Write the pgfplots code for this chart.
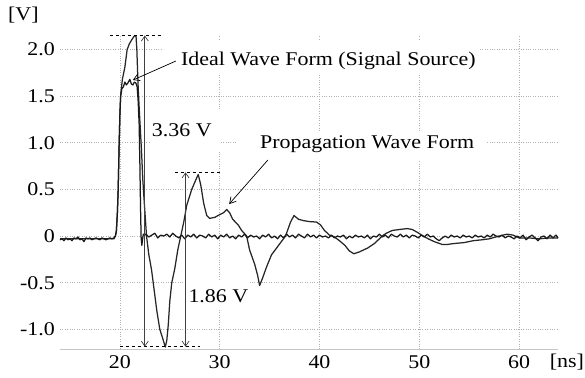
\documentclass[border=0pt]{standalone}
\usepackage{pgfplots}
\pgfplotsset{compat=1.18}
\usepackage{fontspec}
\setmainfont{Liberation Serif}[FakeStretch=1.13]
\usetikzlibrary{arrows.meta}
\begin{document}
\begin{tikzpicture}[font=\fontsize{19.5}{22}\selectfont]
\path (-60bp,-28.7bp) rectangle (525bp,349.3bp);
\begin{axis}[
 at={(0,0)}, anchor=south west, scale only axis, width=498bp, height=314.3bp,
 xmin=14, xmax=63.9, ymin=-1.214, ymax=2.155,
 clip=false,
 axis line style={draw=none},
 major tick length=0pt,
 xtick={20,30,40,50,60}, xticklabels={20,30,40,50,60},
 ytick={-1,-0.5,0,0.5,1,1.5,2}, yticklabels={-1.0,-0.5,0,0.5,1.0,1.5,2.0},
 grid=major, major grid style={gray!60, line width=0.5bp, dash pattern=on 0.8bp off 1.6bp},
 tick label style={font=\fontsize{19.5}{22}\selectfont},
 xticklabel style={inner sep=0pt, anchor=north, yshift=-6bp},
 yticklabel style={inner sep=0pt, anchor=east, xshift=-5bp},
]
% white boxes behind labels
\fill[white] (axis cs:24.31,2.10) rectangle (axis cs:56.07,1.726);
\fill[white] (axis cs:23.0,1.35) rectangle (axis cs:30.1,0.92);
\fill[white] (axis cs:31.72,1.118) rectangle (axis cs:56.77,0.815);
\fill[white] (axis cs:26.75,-0.47) rectangle (axis cs:33.0,-0.79);
\draw[gray!45, line width=0.8bp] (rel axis cs:0,0) -- (rel axis cs:1,0);

% propagation wave form
\addplot[black!85, line width=1.25bp, line join=round] coordinates {
(14,-0.03) (19.4,-0.03) (19.55,0.0) (19.65,0.05) (19.75,0.25) (19.83,0.5) (19.92,0.95)
(20.0,1.3) (20.07,1.5) (20.25,1.68) (20.5,1.81) (20.73,2.0) (20.95,2.06) (21.17,2.1)
(21.35,2.13) (21.5,2.15) (21.62,2.14) (21.7,2.0) (21.78,1.75) (21.85,1.55) (22.0,1.24)
(22.15,0.95) (22.3,0.6) (22.45,0.35) (22.67,0.0) (22.9,-0.2) (23.17,-0.36) (23.4,-0.55)
(23.7,-0.8) (24.0,-1.0) (24.3,-1.1) (24.55,-1.19) (24.7,-1.12) (24.85,-0.95) (25.0,-0.7)
(25.2,-0.5) (25.5,-0.35) (25.8,-0.15) (26.1,0.0) (26.4,0.15) (26.7,0.33) (27.2,0.5)
(27.6,0.6) (27.85,0.66) (28.1,0.55) (28.4,0.35) (28.7,0.22) (29.0,0.19) (29.5,0.2)
(30.0,0.23) (30.4,0.25) (30.7,0.285) (31.0,0.25) (31.3,0.18) (31.85,0.12) (32.2,0.06)
(32.7,0.0) (33.0,-0.15) (33.5,-0.3) (33.8,-0.42) (34.0,-0.53) (34.3,-0.45) (34.7,-0.33)
(35.2,-0.2) (35.9,-0.1) (36.6,0.0) (37.1,0.15) (37.45,0.22) (37.9,0.18) (38.4,0.165)
(39.0,0.155) (39.7,0.15) (40.1,0.12) (40.5,0.06) (41.0,0.01) (41.5,-0.01) (42.0,-0.05)
(42.55,-0.1) (43.0,-0.16) (43.45,-0.19) (44.0,-0.17) (44.8,-0.13) (45.5,-0.08) (46.0,-0.03)
(46.4,0.01) (46.7,0.03) (47.3,0.06) (48.0,0.07) (48.8,0.08) (49.3,0.07) (49.8,0.04)
(50.4,0.0) (50.9,-0.03) (51.5,-0.06) (52.3,-0.09) (52.8,-0.09) (53.5,-0.08) (54.5,-0.07)
(55.4,-0.05) (56.3,-0.04) (57.0,-0.03) (58.0,0.0) (58.8,0.02) (59.4,0.01) (60.0,-0.02)
(61.0,-0.02) (62.0,-0.03) (63.0,-0.02) (63.9,-0.02)
};

% ideal wave form (signal source)
\addplot[black!90, line width=1.25bp, line join=round] coordinates {
(14.0,-0.04) (14.2,-0.03) (14.4,-0.05) (14.6,-0.02) (14.8,-0.04) (15.0,-0.03) (15.2,-0.05)
(15.4,-0.02) (15.6,-0.03) (15.8,-0.01) (16.0,-0.04) (16.2,-0.03) (16.4,-0.06) (16.6,-0.02)
(16.8,-0.03) (17.0,-0.02) (17.2,-0.04) (17.4,-0.03) (17.6,-0.02) (17.8,-0.03) (18.0,-0.04)
(18.2,-0.02) (18.4,-0.03) (18.6,-0.04) (18.8,-0.03) (19.0,-0.02) (19.2,-0.03) (19.4,-0.02)
(19.55,0.0) (19.65,0.06) (19.75,0.25) (19.83,0.5) (19.92,0.95) (20.0,1.3) (20.08,1.5)
(20.2,1.58) (20.35,1.6) (20.5,1.65) (20.65,1.62) (20.8,1.64) (21.0,1.68) (21.15,1.63)
(21.3,1.62) (21.45,1.65) (21.6,1.64) (21.73,1.6) (21.83,1.45) (21.93,1.2) (22.0,0.8)
(22.07,0.3) (22.13,-0.02) (22.2,-0.1) (22.27,-0.04) (22.35,0.02) (22.5,0.01)
(22.6,0.02) (22.9,-0.01) (23.2,0.01) (23.5,0.03) (23.8,-0.02) (24.1,0.01) (24.4,0.00)
(24.7,0.02) (25.0,-0.01) (25.3,0.03) (25.6,0.00) (25.9,-0.02) (26.2,0.01) (26.5,-0.03)
(26.8,0.01) (27.1,-0.01) (27.4,0.02) (27.7,-0.02) (28.0,0.01) (28.3,0.00) (28.6,-0.02)
(28.9,0.02) (29.2,-0.01) (29.5,0.01) (29.8,-0.03) (30.1,0.01) (30.4,-0.01) (30.7,0.02)
(31.0,-0.02) (31.3,0.00) (31.6,-0.03) (31.9,0.01) (32.2,-0.01) (32.5,0.02) (32.8,-0.02)
(33.1,0.01) (33.4,-0.01) (33.7,0.00) (34.0,-0.03) (34.3,0.01) (34.6,-0.01) (34.9,0.02)
(35.2,-0.02) (35.5,0.00) (35.8,-0.03) (36.1,0.01) (36.4,-0.02) (36.7,0.02) (37.0,-0.01)
(37.3,0.01) (37.6,-0.02) (37.9,0.02) (38.2,0.00) (38.5,-0.02) (38.8,0.02) (39.1,-0.01)
(39.4,0.01) (39.7,-0.02) (40.0,0.01) (40.3,-0.01) (40.6,0.00) (40.9,-0.02) (41.2,0.01)
(41.5,-0.02) (41.8,0.00) (42.1,-0.01) (42.4,0.01) (42.7,-0.03) (43.0,0.00) (43.3,-0.02)
(43.6,0.01) (43.9,-0.01) (44.2,0.00) (44.5,-0.02) (44.8,0.01) (45.1,-0.03) (45.4,0.00)
(45.7,-0.01) (46.0,0.02) (46.3,-0.01) (46.6,0.01) (46.9,-0.02) (47.2,0.02) (47.5,0.00)
(47.8,-0.01) (48.1,0.02) (48.4,-0.01) (48.7,0.01) (49.0,-0.02) (49.3,0.01) (49.6,0.00)
(49.9,-0.02) (50.2,0.01) (50.5,-0.01) (50.8,0.02) (51.1,-0.01) (51.4,0.00) (51.7,-0.03)
(52.0,-0.05) (52.3,-0.02) (52.6,0.00) (52.9,-0.02) (53.2,0.01) (53.5,-0.01) (53.8,0.00)
(54.1,-0.02) (54.4,0.01) (54.7,-0.01) (55.0,0.00) (55.3,-0.02) (55.6,0.01) (55.9,-0.01)
(56.2,0.00) (56.5,-0.02) (56.8,0.01) (57.1,-0.01) (57.4,0.02) (57.7,0.00) (58.0,-0.01)
(58.3,0.01) (58.6,-0.02) (58.9,0.00) (59.2,-0.01) (59.5,-0.03) (59.8,0.00) (60.1,-0.02)
(60.4,0.01) (60.7,-0.04) (61.0,-0.01) (61.3,0.01) (61.6,-0.02) (61.9,-0.05) (62.2,-0.01)
(62.5,0.00) (62.8,-0.03) (63.1,0.01) (63.4,-0.02) (63.7,0.01) (63.9,-0.02)
};

% annotations
\draw[black, line width=0.7bp, dash pattern=on 3.5bp off 2.5bp] (axis cs:19.0,2.15) -- (axis cs:24.34,2.15);
\draw[black, line width=0.7bp, dash pattern=on 3.5bp off 2.5bp] (axis cs:20.0,-1.186) -- (axis cs:28.0,-1.186);
\draw[black, line width=0.7bp, dash pattern=on 3.5bp off 2.5bp] (axis cs:25.5,0.683) -- (axis cs:30.2,0.683);
\draw[black!75, line width=0.7bp, {Straight Barb[length=5bp,width=7bp]}-{Straight Barb[length=5bp,width=7bp]}] (axis cs:22.5,2.15) -- (axis cs:22.5,-1.186);
\draw[black!75, line width=0.7bp, {Straight Barb[length=5bp,width=7bp]}-{Straight Barb[length=5bp,width=7bp]}] (axis cs:26.58,0.683) -- (axis cs:26.58,-1.186);
\draw[black, line width=0.7bp, -{Straight Barb[length=6bp,width=7bp]}] (axis cs:25.61,1.876) -- (axis cs:21.30,1.672);
\draw[black, line width=0.7bp, -{Straight Barb[length=6bp,width=7bp]}] (axis cs:34.83,0.815) -- (axis cs:30.95,0.343);

\node[anchor=west, inner sep=0pt] at (axis cs:26.11,1.876) {Ideal Wave Form (Signal Source)};
\node[anchor=west, inner sep=0pt] at (axis cs:34.03,0.986) {Propagation Wave Form};
\node[inner sep=0pt] at (axis cs:26.21,1.136) {3.36 V};
\node[inner sep=0pt] at (axis cs:29.87,-0.643) {1.86 V};
\node[inner sep=0pt] at (axis cs:10.33,2.369) {[V]};
\node[inner sep=0pt] at (axis cs:64.79,-1.35) {[ns]};
\end{axis}
\end{tikzpicture}
\end{document}
